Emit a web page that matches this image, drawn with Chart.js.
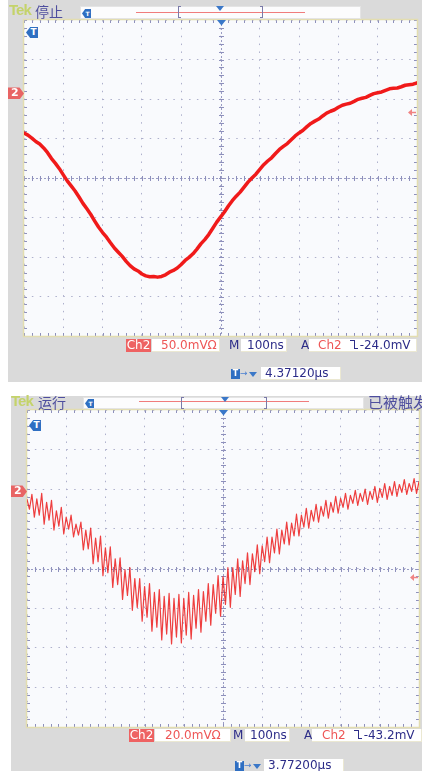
<!DOCTYPE html>
<html><head><meta charset="utf-8"><title>Scope captures</title>
<script src="https://cdn.jsdelivr.net/npm/chart.js@4.4.1/dist/chart.umd.min.js"></script>
<style>
*{box-sizing:border-box}
html,body{margin:0;padding:0;background:#fff;}
body{position:relative;width:422px;height:771px;overflow:hidden;font-family:"DejaVu Sans",sans-serif;}
.abs{position:absolute;white-space:nowrap;}
.panel{background:#dadada;z-index:0;}
.plot{z-index:1;}
.ov{z-index:2;}
.tek{font:bold 15px/16px "Liberation Sans",sans-serif;letter-spacing:-1px;color:#c4d36a;}
.cjk{font:14px/16px "Noto Sans CJK SC",sans-serif;color:#4e4e9e;}
.bar{background:#fcfcfd;border:1px solid #e4e4e4;}
.rline{height:1px;background:#f07c7c;}
.brk{width:3px;border:1px solid #7a7aa8;}
.brk.l{border-right:none}
.brk.r{border-left:none}
.tri{width:0;height:0;border-left:4px solid transparent;border-right:4px solid transparent;border-top:5px solid #3b78c8;}
.st{font:12px/13px "DejaVu Sans",sans-serif;height:13px;}
.wb{background:#fff;border:1px solid #ebe8d2;border-width:0 1px 1px 0;}
.red{color:#ee5656}
.navy{color:#2c2c88}
.chb{background:#ee6262;color:#fff;text-align:center;}
.ticon{background:#2f6fc2;color:#fff;font:bold 9px/11px "DejaVu Sans",sans-serif;text-align:center;clip-path:polygon(35% 0,100% 0,100% 100%,35% 100%,0 50%);padding-left:3px}
.tbox{background:#2f6fc2;color:#fff;font:bold 8px/10px "DejaVu Sans",sans-serif;text-align:center;}
.gnd{background:#e86464;color:#fff;font:bold 11px/12px "DejaVu Sans",sans-serif;clip-path:polygon(0 0,72% 0,100% 50%,72% 100%,0 100%);padding-left:3px}
.fe{display:inline-block;position:relative;width:9px;height:9px;vertical-align:0px;margin-right:1px}
.fe i{position:absolute;top:0;height:9px;border:0 solid #2c2c88}
.fe i.a{left:0;width:5px;border-top-width:1.5px;border-right-width:1.5px}
.fe i.b{left:5px;width:3px;border-bottom-width:1.5px}
</style></head>
<body>
<div class="abs panel" style="left:8px;top:0;width:414px;height:382px"></div>
<div class="abs panel" style="left:11px;top:396px;width:411px;height:375px"></div>

<div class="abs plot" style="left:8px;top:0;width:414px;height:382px"><canvas id="c1"></canvas></div>
<div class="abs plot" style="left:11px;top:396px;width:411px;height:375px"><canvas id="c2"></canvas></div>

<!-- top header -->
<div class="abs ov tek" style="left:9px;top:2px">Tek</div>
<div class="abs ov cjk" style="left:35px;top:3px">停止</div>
<div class="abs ov bar" style="left:80px;top:6px;width:281px;height:13px"></div>
<div class="abs ov ticon" style="left:82px;top:9px;width:9px;height:9px;font-size:6px;line-height:9px;padding-left:2px">T</div>
<div class="abs ov rline" style="left:136px;top:12px;width:169px"></div>
<div class="abs ov brk l" style="left:178px;top:6px;height:12px"></div>
<div class="abs ov brk r" style="left:260px;top:6px;height:12px"></div>
<div class="abs ov tri" style="left:216px;top:6px"></div>
<div class="abs ov ticon" style="left:26px;top:27px;width:12px;height:11px">T</div>
<div class="abs ov gnd" id="g1" style="left:8px;top:88px;width:16px;height:12px">2</div>
<!-- top status -->
<div class="abs ov st chb" style="left:126px;top:339px;width:25px">Ch2</div>
<div class="abs ov st wb red" style="left:152px;top:339px;width:68px;padding-left:9px">50.0mVΩ</div>
<div class="abs ov st navy" style="left:229px;top:339px">M</div>
<div class="abs ov st wb navy" style="left:241px;top:339px;width:46px;padding-left:6px">100ns</div>
<div class="abs ov st navy" style="left:301px;top:339px">A</div>
<div class="abs ov st wb" style="left:309px;top:339px;width:108px;padding-left:9px"><span class="red">Ch2</span><span class="navy" style="margin-left:8px"><span class="fe"><i class="a"></i><i class="b"></i></span>-24.0mV</span></div>
<div class="abs ov tbox" style="left:231px;top:369px;width:9px;height:10px">T</div>
<div class="abs ov" style="left:240px;top:367px;font:9px/13px 'DejaVu Sans';color:#4a7fd0">→</div>
<div class="abs ov tri" style="left:249px;top:372px"></div>
<div class="abs ov st wb navy" style="left:261px;top:367px;width:80px;padding-left:4px">4.37120µs</div>

<!-- bottom header -->
<div class="abs ov tek" style="left:11px;top:393px">Tek</div>
<div class="abs ov cjk" style="left:38px;top:394px">运行</div>
<div class="abs ov bar" style="left:83px;top:397px;width:281px;height:12px"></div>
<div class="abs ov ticon" style="left:85px;top:399px;width:9px;height:9px;font-size:6px;line-height:9px;padding-left:2px">T</div>
<div class="abs ov rline" style="left:139px;top:401px;width:170px"></div>
<div class="abs ov brk l" style="left:181px;top:397px;height:12px"></div>
<div class="abs ov brk r" style="left:264px;top:397px;height:12px"></div>
<div class="abs ov tri" style="left:221px;top:397px"></div>
<div class="abs ov cjk" style="left:368px;top:394px;font-size:15px">已被触发</div>
<div class="abs ov ticon" style="left:29px;top:420px;width:12px;height:11px">T</div>
<div class="abs ov gnd" id="g2" style="left:11px;top:485px;width:16px;height:12px">2</div>
<!-- bottom status -->
<div class="abs ov st chb" style="left:129px;top:729px;width:25px">Ch2</div>
<div class="abs ov st wb red" style="left:155px;top:729px;width:76px;padding-left:10px">20.0mVΩ</div>
<div class="abs ov st navy" style="left:233px;top:729px">M</div>
<div class="abs ov st wb navy" style="left:245px;top:729px;width:45px;padding-left:5px">100ns</div>
<div class="abs ov st navy" style="left:304px;top:729px">A</div>
<div class="abs ov st wb" style="left:312px;top:729px;width:110px;padding-left:10px"><span class="red">Ch2</span><span class="navy" style="margin-left:8px"><span class="fe"><i class="a"></i><i class="b"></i></span>-43.2mV</span></div>
<div class="abs ov tbox" style="left:235px;top:761px;width:9px;height:10px">T</div>
<div class="abs ov" style="left:244px;top:759px;font:9px/13px 'DejaVu Sans';color:#4a7fd0">→</div>
<div class="abs ov tri" style="left:253px;top:764px"></div>
<div class="abs ov st wb navy" style="left:264px;top:759px;width:80px;padding-left:4px">3.77200µs</div>

<script>
// ---- settings read from the screens ----
const TIME_PER_DIV_NS = 100;
const TIME_MIN_NS = -500, TIME_MAX_NS = 500;
const TOP_MV_PER_DIV = 50, TOP_CENTER_MV = -107, TOP_TRIG_MV = -24.0;
const BOT_MV_PER_DIV = 20, BOT_CENTER_MV = -38.9, BOT_TRIG_MV = -43.2;

// ---- top capture (Ch2, 50 mV/div), one sample every 10 ns from -500 ns ----
const topSampleStepNs = 10;
const topCh2mV = [
  -50, -52.7, -56.5, -60.8, -64, -69.0, -75, -82.4, -88.5, -95.2,
  -103, -110.6, -117, -123.4, -131, -139.1, -146, -153.2, -161.5, -169.4,
  -176, -181.9, -189, -195.6, -201, -206.2, -212.5, -217.9, -222, -224.7,
  -228.5, -230.9, -232, -231.7, -232.5, -231.6, -229.5, -226.2, -224, -220.9,
  -216.5, -211.4, -207.5, -202.9, -197, -190.4, -185, -178.6, -171, -163.2,
  -156.5, -150.1, -142.5, -135.7, -130, -124.9, -118.5, -112.2, -107, -102.1,
  -96, -90.2, -85.5, -81.4, -76, -70.9, -67, -63.4, -58.5, -53.7,
  -50, -46.6, -42, -37.9, -35, -32.4, -28.5, -24.9, -22.5, -20.6,
  -17.5, -14.9, -13.5, -12.4, -10, -7.4, -6, -4.9, -2.5, -0.2,
  1, 1.9, 4, 5.9, 6.5, 6.9, 8.5, 10.4, 11, 11.7,
  13.5
];

// ---- bottom capture (Ch2, 20 mV/div): ringing, peaks every 12.5 ns from -500 ns, troughs in between ----
const botPeriodNs = 12.5;
const botPeaksmV = [
  -4.0, -1.5, -3.8, -1.0, -5.5, -4.5, -9.8, -8.0, -13.0, -12.0,
  -16.5, -15.5, -19.5, -18.5, -23.5, -22.5, -28.5, -28.0, -34.0, -33.5,
  -39.5, -38.5, -44.0, -44.0, -48.0, -46.5, -51.0, -49.5, -53.0, -51.5,
  -54.0, -52.0, -54.0, -51.0, -52.5, -49.5, -50.5, -46.5, -47.0, -42.5,
  -43.0, -38.5, -38.5, -34.0, -35.0, -31.0, -31.5, -27.0, -27.5, -23.0,
  -23.0, -19.0, -19.5, -15.5, -16.0, -11.5, -12.0, -8.5, -9.5, -6.5,
  -7.5, -4.5, -5.5, -2.5, -3.5, -1.0, -2.0, 0.5, -1.0, 1.2,
  0.0, 2.5, 1.5, 4.0, 2.5, 5.0, 3.5, 6.0, 4.0, 6.5,
  5.0
];
const botTroughsmV = [
  -9.0, -13.0, -12.0, -16.5, -14.5, -19.5, -17.5, -21.5, -19.0, -23.0,
  -22.0, -29.5, -29.0, -36.5, -35.5, -42.5, -41.0, -48.5, -47.0, -54.5,
  -52.5, -60.0, -58.5, -65.5, -63.5, -70.5, -68.5, -75.0, -72.0, -77.0,
  -73.5, -76.5, -72.5, -74.5, -69.0, -71.0, -65.5, -67.5, -61.5, -63.0,
  -57.0, -58.5, -52.0, -53.0, -46.5, -47.0, -40.5, -41.5, -35.5, -36.0,
  -31.0, -31.5, -26.5, -27.0, -22.5, -22.5, -18.0, -18.5, -15.0, -15.5,
  -12.5, -13.5, -10.5, -11.0, -8.0, -9.0, -6.0, -7.0, -5.0, -6.5,
  -4.0, -5.5, -3.0, -4.0, -2.0, -2.5, -0.5, -1.5, 0.0, -1.0
];

// ---- build point tables ----
const topData = topCh2mV.map((v, i) => ({x: TIME_MIN_NS + i * topSampleStepNs, y: v}));
const botData = [];
botPeaksmV.forEach((v, i) => {
  botData.push({x: TIME_MIN_NS + i * botPeriodNs, y: v});
  if (i < botTroughsmV.length) botData.push({x: TIME_MIN_NS + i * botPeriodNs + botPeriodNs / 2, y: botTroughsmV[i]});
});

// ---- graticule / markers plugin ----
const scopeDecor = {
  id: 'scopeDecor',
  beforeDraw(chart) {
    const {ctx, chartArea: a} = chart;
    ctx.save(); ctx.fillStyle = '#f9fafd'; ctx.fillRect(a.left, a.top, a.width, a.height); ctx.restore();
  },
  beforeDatasetsDraw(chart, args, o) {
    const {ctx, chartArea: a, scales: {x, y}} = chart;
    const xc = Math.round(x.getPixelForValue(0)) + 0.5;
    const yc = Math.round(y.getPixelForValue(o.center)) + 0.5;
    const sx = (x.getPixelForValue(TIME_PER_DIV_NS) - x.getPixelForValue(0)) / 5;
    const sy = (y.getPixelForValue(o.center) - y.getPixelForValue(o.center + o.perDiv)) / 5;
    ctx.save();
    ctx.lineWidth = 1;
    ctx.strokeStyle = '#9a9cc4';
    ctx.setLineDash([2, 2]);
    ctx.beginPath();
    ctx.moveTo(a.left, yc); ctx.lineTo(a.right, yc);
    ctx.moveTo(xc, a.top); ctx.lineTo(xc, a.bottom);
    ctx.stroke();
    ctx.setLineDash([]);
    ctx.strokeStyle = '#8e90bc';
    ctx.beginPath();
    for (let i = 0; i <= 50; i++) {
      const px = Math.round(a.left + i * sx) + 0.5;
      ctx.moveTo(px, yc - 2.5); ctx.lineTo(px, yc + 2.5);
      ctx.moveTo(px, a.top); ctx.lineTo(px, a.top + 3);
      ctx.moveTo(px, a.bottom); ctx.lineTo(px, a.bottom - 3);
    }
    for (let j = 0; j <= 40; j++) {
      const py = Math.round(a.top + j * sy) + 0.5;
      ctx.moveTo(xc - 2.5, py); ctx.lineTo(xc + 2.5, py);
      ctx.moveTo(a.left, py); ctx.lineTo(a.left + 3, py);
      ctx.moveTo(a.right, py); ctx.lineTo(a.right - 3, py);
    }
    ctx.stroke();
    ctx.strokeStyle = '#e3ddb0';
    ctx.lineWidth = 1.5;
    ctx.strokeRect(a.left - 0.5, a.top - 0.5, a.width + 1, a.height + 1);
    // trigger position (t = 0)
    ctx.fillStyle = '#3a78c9';
    ctx.beginPath();
    ctx.moveTo(xc - 4.5, a.top); ctx.lineTo(xc + 4.5, a.top); ctx.lineTo(xc, a.top + 5.5); ctx.closePath(); ctx.fill();
    // trigger level
    const ty = Math.round(y.getPixelForValue(o.trig)) + 0.5;
    ctx.strokeStyle = '#f08484'; ctx.fillStyle = '#f08484'; ctx.lineWidth = 1.5;
    ctx.beginPath(); ctx.moveTo(a.right - 6, ty); ctx.lineTo(a.right - 1, ty); ctx.stroke();
    ctx.beginPath(); ctx.moveTo(a.right - 9, ty); ctx.lineTo(a.right - 5, ty - 3.5); ctx.lineTo(a.right - 5, ty + 3.5); ctx.closePath(); ctx.fill();
    ctx.restore();
  }
};

function makeChart(id, data, cfg) {
  const yMin = cfg.center - 4 * cfg.perDiv, yMax = cfg.center + 4 * cfg.perDiv;
  return new Chart(document.getElementById(id), {
    type: 'line',
    data: {datasets: [{data, borderColor: cfg.color, borderWidth: cfg.width, pointRadius: 0, tension: 0,
      borderJoinStyle: 'round', borderCapStyle: 'round', fill: false}]},
    options: {
      responsive: true, maintainAspectRatio: false, animation: false, events: [],
      layout: {padding: cfg.pad},
      plugins: {legend: {display: false}, tooltip: {enabled: false},
        scopeDecor: {center: cfg.center, perDiv: cfg.perDiv, trig: cfg.trig}},
      scales: {
        x: {type: 'linear', min: TIME_MIN_NS, max: TIME_MAX_NS,
          afterBuildTicks: s => { const t = []; for (let v = TIME_MIN_NS; v <= TIME_MAX_NS; v += TIME_PER_DIV_NS) t.push({value: v}); s.ticks = t; },
          ticks: {display: false}, grid: {color: '#aeb0cc', lineWidth: 1, drawTicks: false},
          border: {display: false, dash: [1.5, 6.36]}},
        y: {type: 'linear', min: yMin, max: yMax,
          afterBuildTicks: s => { const t = []; for (let k = 0; k <= 8; k++) t.push({value: yMin + k * cfg.perDiv}); s.ticks = t; },
          ticks: {display: false}, grid: {color: '#aeb0cc', lineWidth: 1, drawTicks: false},
          border: {display: false, dash: [1.5, 6.36]}}
      }
    },
    plugins: [scopeDecor]
  });
}

const chTop = makeChart('c1', topData, {center: TOP_CENTER_MV, perDiv: TOP_MV_PER_DIV, trig: TOP_TRIG_MV,
  color: '#f01a1a', width: 3.5, pad: {left: 16, top: 20, right: 5, bottom: 46}});
const chBot = makeChart('c2', botData, {center: BOT_CENTER_MV, perDiv: BOT_MV_PER_DIV, trig: BOT_TRIG_MV,
  color: 'rgba(236,28,28,0.85)', width: 1.2, pad: {left: 16, top: 14, right: 3, bottom: 44}});

// ground markers placed at 0 mV on each scale
document.getElementById('g1').style.top = (0 + chTop.scales.y.getPixelForValue(0) - 6) + 'px';
document.getElementById('g2').style.top = (396 + chBot.scales.y.getPixelForValue(0) - 6) + 'px';
</script>
</body></html>
